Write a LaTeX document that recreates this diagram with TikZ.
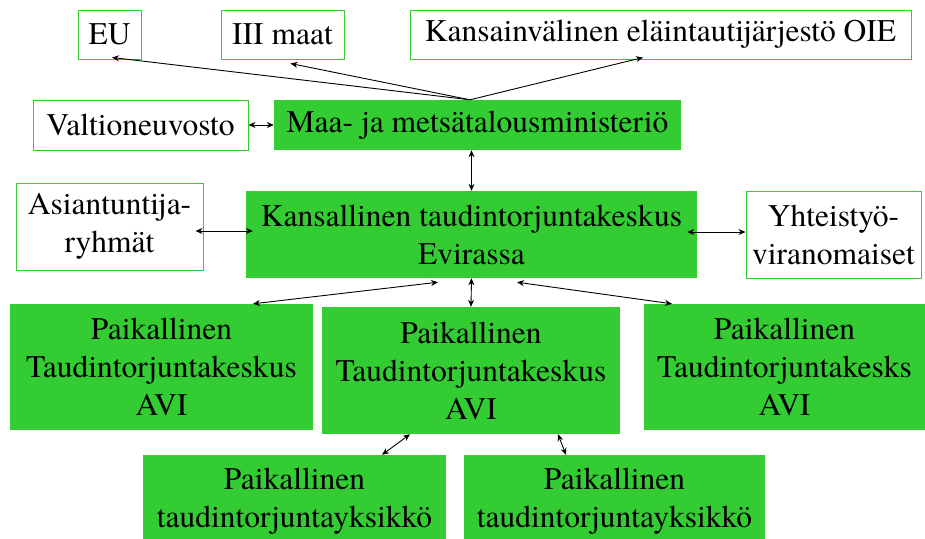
\documentclass[tikz,border=0pt]{standalone}
\usepackage{fontspec}
\setmainfont{texgyretermes}[Extension=.otf,UprightFont=*-regular]
\usetikzlibrary{arrows.meta}
\definecolor{boxgreen}{RGB}{51,204,51}
\begin{document}
\begin{tikzpicture}[x=1pt,y=-1pt,
  outbox/.style={draw=boxgreen,line width=1pt,fill=white,inner sep=0pt,align=center,font=\rmfamily\fontsize{31.5}{38}\selectfont},
  inbox/.style={fill=boxgreen,inner sep=0pt,align=center,font=\rmfamily\fontsize{31.5}{38}\selectfont},
  link/.style={line width=0.9pt,{Stealth[length=7pt,width=6pt]}-{Stealth[length=7pt,width=6pt]}},
  onelink/.style={line width=0.9pt,-{Stealth[length=7pt,width=6pt]}}]
\useasboundingbox (0,0) rectangle (925,538);
\node[outbox,minimum width=63pt,minimum height=49pt] (eu) at (109.5,34.5) {EU};
\node[outbox,minimum width=123pt,minimum height=49pt] (iii) at (282.5,34.5) {III maat};
\node[outbox,minimum width=501pt,minimum height=49pt] (oie) at (660.5,34.5) {Kansainvälinen eläintautijärjestö OIE};
\node[outbox,minimum width=215pt,minimum height=50pt] (valtio) at (140.5,125) {Valtioneuvosto};
\node[inbox,minimum width=407pt,minimum height=50pt] (mmm) at (477.5,125) {Maa- ja metsätalousministeriö};
\node[outbox,minimum width=187pt,minimum height=87pt] (asiant) at (109.5,226.5) {Asiantuntija-\\ryhmät};
\node[inbox,minimum width=451pt,minimum height=87pt] (kans) at (471.5,234.5) {Kansallinen taudintorjuntakeskus\\Evirassa};
\node[outbox,minimum width=175pt,minimum height=87pt] (yhteis) at (833.5,234.5) {Yhteistyö-\\viranomaiset};
\node[inbox,minimum width=303pt,minimum height=126pt] (pl) at (161.5,367) {Paikallinen\\Taudintorjuntakeskus\\AVI};
\node[inbox,minimum width=298pt,minimum height=127pt] (pm) at (471,370.5) {Paikallinen\\Taudintorjuntakeskus\\AVI};
\node[inbox,minimum width=281pt,minimum height=126pt] (pr) at (784.5,367) {Paikallinen\\Taudintorjuntakesks\\AVI};
\node[inbox,minimum width=303pt,minimum height=92pt] (bl) at (294.5,501) {Paikallinen\\taudintorjuntayksikkö};
\node[inbox,minimum width=301pt,minimum height=92pt] (br) at (614.5,501) {Paikallinen\\taudintorjuntayksikkö};
\coordinate (mmmtop) at ([xshift=-7.5pt]mmm.north);
\draw[onelink] (mmmtop) -- ([xshift=2.5pt,yshift=2pt]eu.south);
\draw[onelink] (mmmtop) -- ([xshift=8pt,yshift=-4pt]iii.south);
\draw[onelink] (mmmtop) -- ([xshift=-17.5pt,yshift=2pt]oie.south);
\draw[link] (valtio.east) -- (mmm.west);
\draw[link] (mmm.south -| kans.north) -- (kans.north);
\draw[link,shorten <=-8pt,shorten >=-7pt] ([yshift=-4.5pt]asiant.east) -- ([yshift=3.5pt]kans.west);
\draw[link,shorten <=-10pt] ([yshift=2.5pt]kans.east) -- ([yshift=2.5pt]yhteis.west);
\draw[link] ([xshift=-33.5pt,yshift=-4pt]kans.south) -- ([xshift=91.5pt]pl.north);
\draw[link] (kans.south) -- (pm.north);
\draw[link] ([xshift=45.5pt,yshift=-4pt]kans.south) -- ([xshift=-112.5pt]pr.north);
\draw[link] ([xshift=-61pt]pm.south) -- ([xshift=87.5pt]bl.north);
\draw[link] ([xshift=87pt]pm.south) -- ([xshift=-48.5pt]br.north);
\end{tikzpicture}
\end{document}
